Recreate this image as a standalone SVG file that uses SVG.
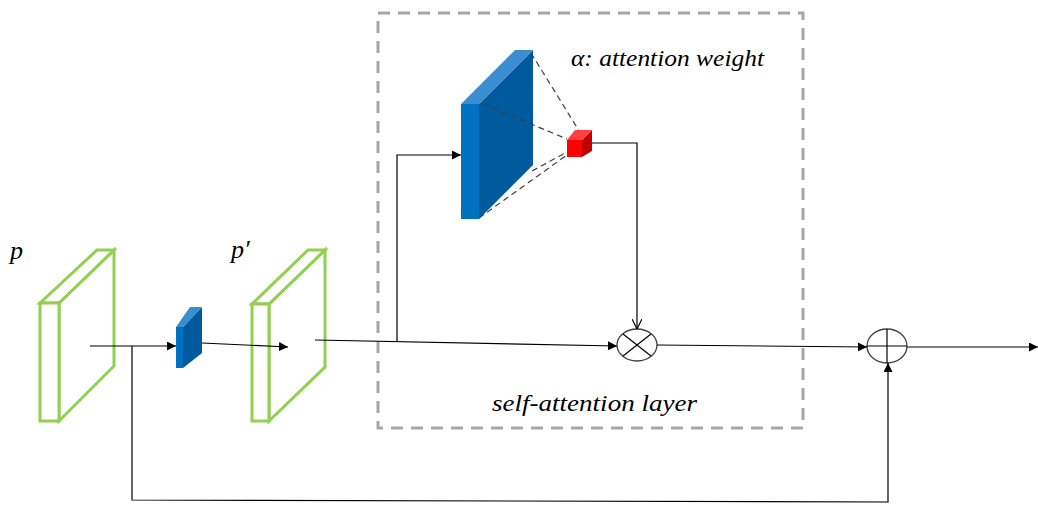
<svg xmlns="http://www.w3.org/2000/svg" width="1038" height="505" viewBox="0 0 1038 505">
<defs>
<style>
.green{fill:#fff;stroke:#92D050;stroke-width:3;stroke-linejoin:miter}
.ln{fill:none;stroke:#000;stroke-width:1.2}
.dash{fill:none;stroke:#404040;stroke-width:1.2;stroke-dasharray:6,4}
.box{fill:none;stroke:#A6A6A6;stroke-width:3;stroke-dasharray:12,8}
.lbl{font-family:"Liberation Serif",serif;font-style:italic;fill:#000}
.op{fill:#fff;stroke:#404040;stroke-width:1.3}
</style>
<marker id="ah" viewBox="0 0 10 10" refX="10" refY="5" markerWidth="9" markerHeight="9" markerUnits="userSpaceOnUse" orient="auto">
<path d="M0,0 L10,5 L0,10 z" fill="#000"/>
</marker>
<marker id="oa" viewBox="0 0 10 10" refX="10" refY="5" markerWidth="10" markerHeight="10" markerUnits="userSpaceOnUse" orient="auto">
<path d="M0,0 L10,5 L0,10" fill="none" stroke="#000" stroke-width="1.2"/>
</marker>
</defs>
<rect width="1038" height="505" fill="#fff"/>

<g id="selfattention-box">
<rect class="box" x="378" y="13" width="425" height="415"/>
<text class="lbl" x="492" y="411" font-size="24" textLength="205" lengthAdjust="spacingAndGlyphs">self-attention layer</text>
</g>

<g id="p">
<path class="green" d="M59,303 L114,250 L114,366 L59,421 Z"/>
<path class="green" d="M40,303 L97,250 L114,250 L59,303 Z"/>
<rect class="green" x="40" y="303" width="19" height="118"/>
<text class="lbl" x="10" y="259" font-size="26">p</text>
</g>

<g id="p-prime">
<path class="green" d="M269,304 L325,250 L325,367 L269,421 Z"/>
<path class="green" d="M252,304 L308,250 L325,250 L269,304 Z"/>
<rect class="green" x="252" y="304" width="17" height="117"/>
<text class="lbl" x="231" y="258" font-size="26">p′</text>
</g>

<g id="conv-small">
<path d="M183,327 L202,307 L202,353 L183,368 Z" fill="#005A9E"/>
<path d="M176,327 L190,307 L202,307 L183,327 Z" fill="#3A8DD0"/>
<rect x="176" y="327" width="7" height="41" fill="#0070C0"/>
</g>

<g id="feature-map">
<path d="M479,104 L533,50 L533,165 L479,219 Z" fill="#005A9E"/>
<path d="M461,104 L515,50 L533,50 L479,104 Z" fill="#3A8DD0"/>
<rect x="461" y="104" width="18" height="115" fill="#0070C0"/>
<line class="dash" x1="531" y1="53" x2="581" y2="134"/>
<line class="dash" x1="483" y1="104" x2="567" y2="139"/>
<line class="dash" x1="532" y1="171" x2="567" y2="152"/>
<line class="dash" x1="479" y1="218" x2="567" y2="155"/>
</g>

<g id="attention-weight">
<path d="M582,140 L592,130 L592,151 L582,157 Z" fill="#C00000"/>
<path d="M567,140 L575,130 L592,130 L582,140 Z" fill="#FF4040"/>
<rect x="567" y="140" width="15" height="17" fill="#FF0000"/>
<text class="lbl" x="571" y="66" font-size="24" textLength="193" lengthAdjust="spacingAndGlyphs">α: attention weight</text>
</g>

<g id="multiply">
<ellipse class="op" cx="637" cy="345" rx="20" ry="16"/>
<line class="ln" x1="623" y1="334" x2="651" y2="356" stroke="#404040"/>
<line class="ln" x1="651" y1="334" x2="623" y2="356" stroke="#404040"/>
</g>

<g id="add">
<ellipse class="op" cx="887" cy="346" rx="20" ry="17"/>
<line class="ln" x1="867" y1="346" x2="907" y2="346" stroke="#404040"/>
<line class="ln" x1="887" y1="329" x2="887" y2="363" stroke="#404040"/>
</g>

<g id="connectors">
<line class="ln" x1="90" y1="346" x2="176" y2="346" marker-end="url(#ah)"/>
<line class="ln" x1="202" y1="343" x2="288" y2="347" marker-end="url(#ah)"/>
<line class="ln" x1="315" y1="340" x2="617" y2="346" marker-end="url(#ah)"/>
<polyline class="ln" points="397,341 397,155 461,155" marker-end="url(#ah)"/>
<polyline class="ln" points="592,143 637,143 637,329" marker-end="url(#oa)"/>
<line class="ln" x1="657" y1="345" x2="867" y2="347" marker-end="url(#ah)"/>
<line class="ln" x1="907" y1="347" x2="1038" y2="347" marker-end="url(#ah)"/>
<polyline class="ln" points="132,346 132,500 888,502 888,363" marker-end="url(#ah)"/>
</g>
</svg>
